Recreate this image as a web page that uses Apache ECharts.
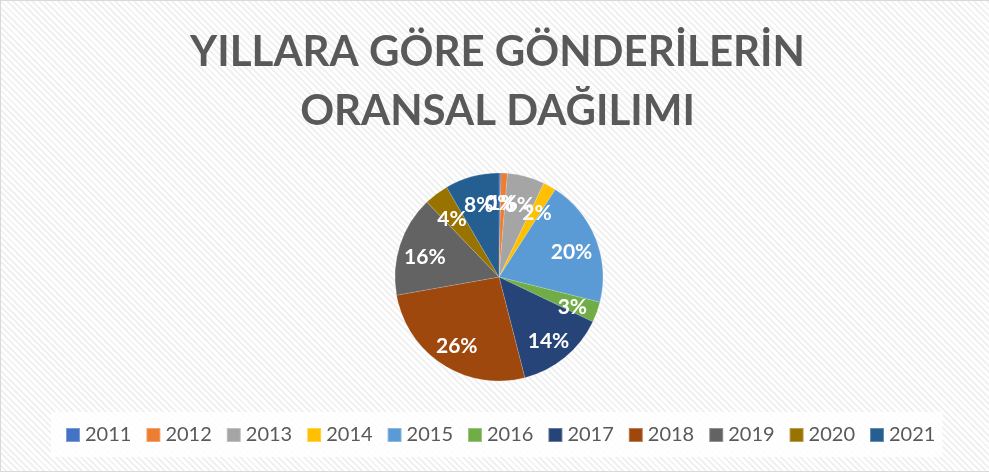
<!DOCTYPE html>
<html lang="tr">
<head>
  <meta charset="UTF-8">
  <title>Yıllara Göre Gönderilerin Oransal Dağılımı</title>
  <style>
    * { margin: 0; padding: 0; box-sizing: border-box; }
    body { width: 989px; height: 473px; background: #fff; overflow: hidden; }
    #chart {
      position: absolute;
      left: 0; top: 0;
      width: 995px; height: 472px;
      border: 1.5px solid #d9d9d9;
      background: repeating-linear-gradient(45deg, #ffffff 0px, #ffffff 2.5px, #f1f1f1 2.5px, #f1f1f1 4.5px);
    }
  </style>
</head>
<body>
  <div id="chart"></div>

  <script src="https://cdn.jsdelivr.net/npm/echarts@6/dist/echarts.min.js"></script>
  <script>
    // veriler (yüzde)
    const years = ['2011', '2012', '2013', '2014', '2015', '2016', '2017', '2018', '2019', '2020', '2021'];
    const shares = [0.3, 1.0, 5.8, 2.0, 19.8, 3.2, 13.9, 26.2, 15.6, 3.8, 8.4];
    const colors = ['#4472C4', '#ED7D31', '#A5A5A5', '#FFC000', '#5B9BD5', '#70AD47',
                    '#264478', '#9E480E', '#636363', '#997300', '#255E91'];

    const pieData = years.map((y, i) => ({ name: y, value: shares[i] }));

    const chart = echarts.init(document.getElementById('chart'));

    chart.setOption({
      color: colors,
      animation: false,
      title: {
        text: 'YILLARA GÖRE GÖNDERİLERİN\nORANSAL DAĞILIMI',
        left: 'center',
        top: 22,
        padding: 0,
        textStyle: {
          fontFamily: 'Lato',
          fontWeight: 'bold',
          fontSize: 42,
          lineHeight: 59,
          color: '#595959'
        }
      },
      legend: {
        left: 50,
        top: 411,
        padding: [13, 7, 12, 14],
        backgroundColor: 'rgba(255,255,255,0.85)',
        itemWidth: 14,
        itemHeight: 14,
        itemGap: 14,
        icon: 'rect',
        data: years,
        textStyle: { fontFamily: 'Lato', fontSize: 20, color: '#595959' }
      },
      series: [
        {
          name: 'dilim',
          type: 'pie',
          center: [498, 276],
          radius: [0, 104],
          startAngle: 90,
          clockwise: true,
          label: { show: false },
          labelLine: { show: false },
          emphasis: { disabled: true },
          itemStyle: { borderColor: 'rgba(255,255,255,0.3)', borderWidth: 0.5 },
          data: pieData
        },
        {
          // yalnız etiketler
          name: 'etiket',
          type: 'pie',
          center: [498, 276],
          radius: [46, 104],
          startAngle: 90,
          clockwise: true,
          silent: true,
          avoidLabelOverlap: false,
          minShowLabelAngle: 0,
          labelLayout: { hideOverlap: false },
          itemStyle: { color: 'rgba(0,0,0,0)' },
          emphasis: { disabled: true },
          labelLine: { show: false },
          label: {
            show: true,
            position: 'inside',
            overflow: 'none',
            offset: [0, 4],
            formatter: p => Math.round(p.percent) + '%',
            fontFamily: 'Lato',
            fontWeight: 'bold',
            fontSize: 21,
            color: '#fff'
          },
          data: pieData
        }
      ]
    });

    window.addEventListener('resize', () => chart.resize());
  </script>
</body>
</html>
